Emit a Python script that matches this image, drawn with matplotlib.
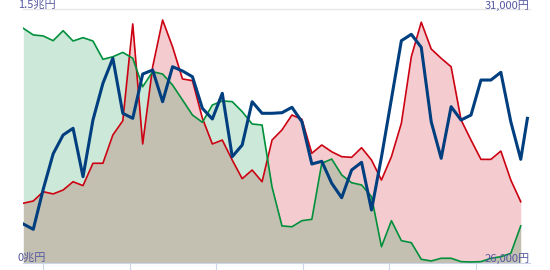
import matplotlib
matplotlib.use('Agg')
import matplotlib.pyplot as plt

plt.rcParams['font.family'] = ['Noto Sans CJK JP', 'DejaVu Sans']

# left axis series (兆円), one value per period
red_vals = [0.353, 0.366, 0.421, 0.408, 0.431, 0.480, 0.457, 0.589, 0.589, 0.756,
            0.840, 1.412, 0.703, 1.158, 1.435, 1.277, 1.087, 1.077, 0.855, 0.703,
            0.726, 0.608, 0.498, 0.549, 0.480, 0.726, 0.786, 0.874, 0.849, 0.648,
            0.697, 0.657, 0.628, 0.624, 0.681, 0.608, 0.490, 0.628, 0.825, 1.218,
            1.422, 1.264, 1.209, 1.159, 0.845, 0.726, 0.612, 0.612, 0.661, 0.490,
            0.362]
green_vals = [1.386, 1.347, 1.341, 1.313, 1.372, 1.311, 1.331, 1.311, 1.203, 1.218,
              1.244, 1.209, 1.041, 1.130, 1.116, 1.051, 0.963, 0.874, 0.831, 0.933,
              0.957, 0.953, 0.894, 0.821, 0.815, 0.449, 0.219, 0.214, 0.250, 0.258,
              0.589, 0.614, 0.520, 0.474, 0.461, 0.392, 0.096, 0.250, 0.132, 0.120,
              0.022, 0.012, 0.028, 0.028, 0.008, 0.006, 0.008, 0.028, 0.037, 0.057,
              0.219]
x_vals = list(range(len(red_vals)))

# right axis series (円)
blue_vals = [26768, 26663, 27451, 28150, 28520, 28652, 27699, 28815, 29537, 30030,
             28947, 28848, 29720, 29799, 29175, 29864, 29780, 29667, 29045, 28835,
             29341, 28093, 28323, 29175, 28947, 28947, 28959, 29065, 28781, 27949,
             28002, 27569, 27285, 27831, 27982, 27043, 28087, 29228, 30376, 30502,
             30246, 28781, 28061, 29077, 28815, 28913, 29602, 29602, 29754, 28781,
             28041, 28848]
blue_x = x_vals + [50.67]

tick_pos = [2.0, 10.7, 19.4, 28.1, 36.8, 45.5]

fig = plt.figure(figsize=(5.5, 2.7), dpi=100)
ax = fig.add_axes([0.0424, 0.0259, 0.9216, 0.9407])

red = '#cc0011'
green = '#00903c'
blue = '#003f7f'

ax.fill_between(x_vals, red_vals, 0, color=red, alpha=0.2, linewidth=0, zorder=1)
ax.fill_between(x_vals, green_vals, 0, color=green, alpha=0.2, linewidth=0, zorder=2)
ax.plot(x_vals, red_vals, color=red, lw=1.2, zorder=3)
ax.plot(x_vals, green_vals, color=green, lw=1.2, zorder=4)
ax.axhline(1.5, color='#e6e6e6', lw=1, zorder=0, clip_on=False)

ax.set_xlim(0, 50.95)
ax.set_ylim(0, 1.5)
for s in ['top', 'left', 'right']:
    ax.spines[s].set_visible(False)
ax.spines['bottom'].set_color('#ccd6eb')
ax.set_yticks([])
ax.set_xticks(tick_pos)
ax.tick_params(axis='x', length=5, color='#ccd6eb', labelbottom=False)

ax2 = ax.twinx()
ax2.plot(blue_x, blue_vals, color=blue, lw=2.2, zorder=5)
ax2.set_ylim(26000, 31000)
ax2.set_yticks([])
for s in ['top', 'left', 'right', 'bottom']:
    ax2.spines[s].set_visible(False)

lab = '#5558a0'
fig.text(18 / 550, 0.981, '1.5兆円', color=lab, fontsize=8, ha='left', va='center')
fig.text(18 / 550, 0.044, '0兆円', color=lab, fontsize=8, ha='left', va='center')
fig.text(0.9636, 0.981, '31,000円', color=lab, fontsize=8, ha='right', va='center')
fig.text(0.9636, 0.044, '26,000円', color=lab, fontsize=8, ha='right', va='center', zorder=10)

fig.savefig('out.png', dpi=100)
